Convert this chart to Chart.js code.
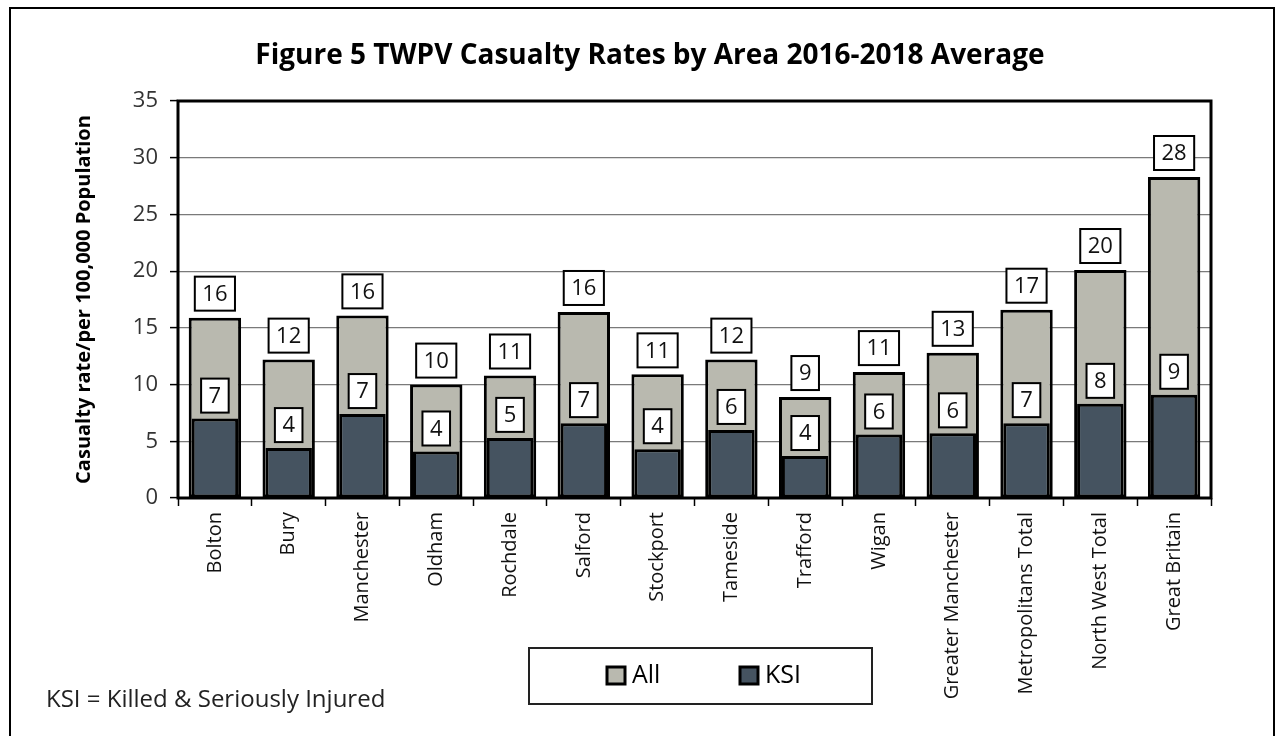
<!DOCTYPE html>
<html>
<head>
<meta charset="utf-8">
<script src="https://cdn.jsdelivr.net/npm/chart.js@4.4.0/dist/chart.umd.min.js"></script>
<style>
  html, body { margin: 0; padding: 0; background: #fff; }
  #wrap { width: 1277px; height: 736px; }
</style>
</head>
<body>
<div id="wrap"><canvas id="myChart" width="1277" height="736"></canvas></div>
<script>
const categories = ["Bolton", "Bury", "Manchester", "Oldham", "Rochdale", "Salford", "Stockport",
  "Tameside", "Trafford", "Wigan", "Greater Manchester", "Metropolitans Total", "North West Total", "Great Britain"];
const allRates = [15.9, 12.2, 16.1, 10.0, 10.8, 16.4, 10.9, 12.2, 8.9, 11.1, 12.8, 16.6, 20.1, 28.3];
const ksiRates = [7.0, 4.4, 7.4, 4.1, 5.3, 6.6, 4.3, 6.0, 3.7, 5.6, 5.7, 6.6, 8.3, 9.1];
const seriesNames = ["All", "KSI"];
const seriesColors = ["#b9b9af", "#455360"];

const chartTitle = "Figure 5 TWPV Casualty Rates by Area 2016-2018 Average";
const yTitle = "Casualty rate/per 100,000 Population";
const footnote = "KSI = Killed & Seriously Injured";

const FONT = "'Open Sans', 'DejaVu Sans', sans-serif";

// white boxed value labels, frame, title, legend and footnote
const decorPlugin = {
  id: "decor",
  afterDatasetsDraw(chart) {
    const ctx = chart.ctx;
    const a = chart.chartArea;
    // thick plot frame
    ctx.save();
    ctx.strokeStyle = "#000";
    ctx.lineWidth = 3;
    ctx.strokeRect(a.left, a.top, a.right - a.left, a.bottom - a.top);
    ctx.restore();

    ctx.save();
    ctx.font = "22px " + FONT;
    ctx.textAlign = "center";
    ctx.textBaseline = "middle";
    chart.data.datasets.forEach(function (ds, i) {
      const meta = chart.getDatasetMeta(i);
      meta.data.forEach(function (bar, j) {
        const txt = String(Math.round(ds.data[j]));
        const w = ctx.measureText(txt).width + 15;
        const h = 34;
        const bottom = bar.y - (i === 0 ? 7 : 6);
        ctx.fillStyle = "#fff";
        ctx.fillRect(bar.x - w / 2, bottom - h, w, h);
        ctx.strokeStyle = "#000";
        ctx.lineWidth = 2;
        ctx.strokeRect(bar.x - w / 2, bottom - h, w, h);
        ctx.fillStyle = "#111";
        ctx.fillText(txt, bar.x, bottom - h / 2 + 1);
      });
    });
    ctx.restore();
  },
  afterDraw(chart) {
    const ctx = chart.ctx;
    ctx.save();
    // outer figure border
    ctx.strokeStyle = "#000";
    ctx.lineWidth = 2;
    ctx.strokeRect(10, 8, 1264, 800);

    ctx.fillStyle = "#000";
    ctx.font = "bold 28px " + FONT;
    ctx.textAlign = "center";
    ctx.textBaseline = "middle";
    ctx.fillText(chartTitle, 650, 56);

    // legend box
    ctx.lineWidth = 2;
    ctx.strokeStyle = "#222";
    ctx.strokeRect(529, 648, 343, 56);
    ctx.font = "25px " + FONT;
    ctx.textAlign = "left";
    const items = [[607, seriesNames[0], seriesColors[0]], [740, seriesNames[1], seriesColors[1]]];
    items.forEach(function (it) {
      ctx.fillStyle = it[2];
      ctx.fillRect(it[0], 667, 18, 17);
      ctx.strokeStyle = "#000";
      ctx.lineWidth = 3;
      ctx.strokeRect(it[0], 667, 18, 17);
      ctx.fillStyle = "#000";
      ctx.fillText(it[1], it[0] + 25, 676);
    });

    ctx.font = "24px " + FONT;
    ctx.fillStyle = "#222";
    ctx.textBaseline = "alphabetic";
    ctx.fillText(footnote, 46, 707);
    ctx.restore();
  }
};

const ctx = document.getElementById("myChart").getContext("2d");
const myChart = new Chart(ctx, {
  type: "bar",
  data: {
    labels: categories,
    datasets: [
      {
        label: seriesNames[0],
        data: allRates,
        backgroundColor: seriesColors[0],
        borderColor: "#000",
        borderWidth: 3,
        borderSkipped: false,
        grouped: false,
        categoryPercentage: 1,
        barPercentage: 0.71,
        order: 1,
      },
      {
        label: seriesNames[1],
        data: ksiRates,
        backgroundColor: seriesColors[1],
        borderColor: "#000",
        borderWidth: 3,
        borderSkipped: false,
        grouped: false,
        categoryPercentage: 1,
        barPercentage: 0.63,
        order: 0,
      },
    ],
  },
  options: {
    responsive: false,
    animation: false,
    layout: { padding: { left: 0, right: 66, top: 101, bottom: 0 } },
    plugins: {
      legend: { display: false },
      tooltip: { enabled: false },
      title: { display: false },
    },
    scales: {
      x: {
        afterFit: function (s) { s.height = 238; },
        grid: {
          display: true,
          drawOnChartArea: false,
          drawTicks: true,
          tickLength: 8,
          tickColor: "#000",
          tickWidth: 1.5,
          offset: true,
        },
        border: { display: false },
        ticks: {
          autoSkip: false,
          minRotation: 90,
          maxRotation: 90,
          padding: 6,
          color: "#111",
          font: { family: FONT, size: 20 },
        },
      },
      y: {
        min: 0,
        max: 35,
        afterFit: function (s) { s.width = 178; },
        ticks: {
          stepSize: 5,
          padding: 12,
          color: "#333",
          font: { family: FONT, size: 22 },
        },
        grid: {
          color: "#7a7a7a",
          lineWidth: 1.2,
          tickLength: 8,
          tickColor: "#000",
          tickWidth: 1.5,
        },
        border: { display: false },
        title: {
          display: true,
          text: yTitle,
          color: "#000",
          padding: { top: 72, bottom: 0 },
          font: { family: FONT, size: 20, weight: "bold" },
        },
      },
    },
  },
  plugins: [decorPlugin],
});
</script>
</body>
</html>
